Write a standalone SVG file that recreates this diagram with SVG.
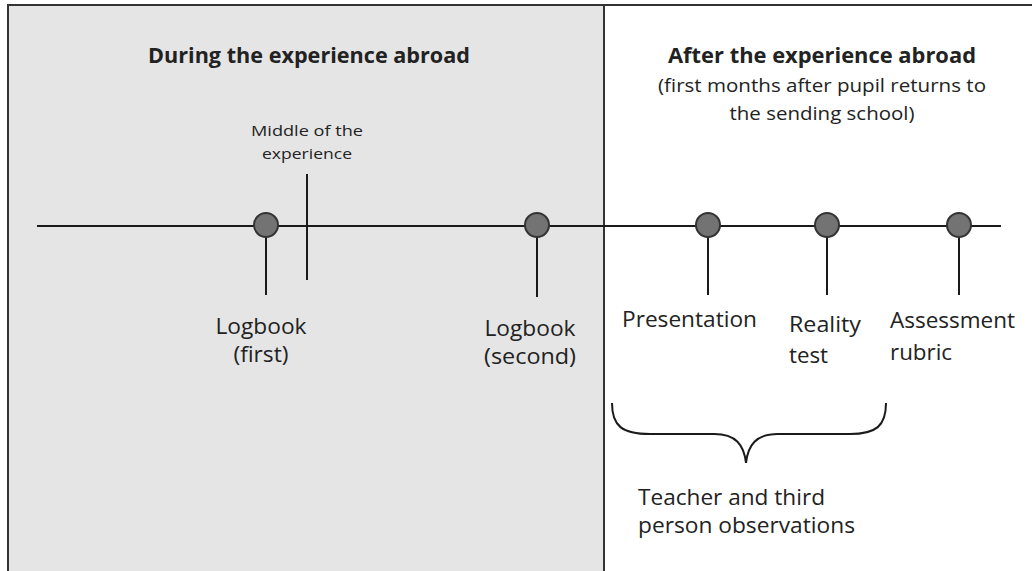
<svg xmlns="http://www.w3.org/2000/svg" width="1032" height="571" viewBox="0 0 1032 571">
<style>
.ln{stroke:#1a1a1a;stroke-width:2;fill:none}
.brd{stroke:#333;stroke-width:2;fill:none}
.dot{fill:#737373;stroke:#333;stroke-width:2}
text{font-family:"Open Sans","Liberation Sans",sans-serif;fill:#222}
.ttl{font-size:21px;font-weight:bold;text-anchor:middle}
.sub{font-size:18px;text-anchor:middle}
.lbl{font-size:21.5px}
.sm{font-size:15px;text-anchor:middle}
</style>
<rect x="0" y="0" width="1032" height="571" fill="#ffffff"/>
<g id="panel-during">
<rect x="8" y="5" width="596" height="566" fill="#e5e5e5"/>
<text class="ttl" x="309" y="63" textLength="322" lengthAdjust="spacingAndGlyphs">During the experience abroad</text>
</g>
<g id="panel-after">
<text class="ttl" x="822" y="63" textLength="308" lengthAdjust="spacingAndGlyphs">After the experience abroad</text>
<text class="sub" x="822" y="92" textLength="328" lengthAdjust="spacingAndGlyphs">(first months after pupil returns to</text>
<text class="sub" x="822" y="120" textLength="185" lengthAdjust="spacingAndGlyphs">the sending school)</text>
</g>
<g id="frame">
<line class="brd" x1="7" y1="5" x2="1032" y2="5"/>
<line class="brd" x1="8" y1="5" x2="8" y2="571"/>
<line class="brd" x1="604" y1="5" x2="604" y2="571"/>
</g>
<g id="connectors">
<line class="ln" x1="37" y1="226" x2="1001" y2="226"/>
<line class="ln" x1="307" y1="174" x2="307" y2="280"/>
<line class="ln" x1="266" y1="226" x2="266" y2="295"/>
<line class="ln" x1="537" y1="226" x2="537" y2="297"/>
<line class="ln" x1="708" y1="226" x2="708" y2="295"/>
<line class="ln" x1="827" y1="226" x2="827" y2="295"/>
<line class="ln" x1="959" y1="226" x2="959" y2="295"/>
<path class="ln" d="M612,403 C612,426 622,434 650,434 L714,434 C736,434 744,445 746,463 C748,445 756,434 778,434 L850,434 C876,434 886,426 886,403"/>
</g>
<g id="middle">
<text class="sm" x="307" y="136" textLength="112" lengthAdjust="spacingAndGlyphs">Middle of the</text>
<text class="sm" x="307" y="159" textLength="90" lengthAdjust="spacingAndGlyphs">experience</text>
</g>
<g id="logbook-first">
<circle class="dot" cx="266" cy="225" r="12"/>
<text class="lbl" x="261" y="334" text-anchor="middle" textLength="91" lengthAdjust="spacingAndGlyphs">Logbook</text>
<text class="lbl" x="261" y="362" text-anchor="middle" textLength="55" lengthAdjust="spacingAndGlyphs">(first)</text>
</g>
<g id="logbook-second">
<circle class="dot" cx="537" cy="225" r="12"/>
<text class="lbl" x="530" y="336" text-anchor="middle" textLength="91" lengthAdjust="spacingAndGlyphs">Logbook</text>
<text class="lbl" x="530" y="364" text-anchor="middle" textLength="92" lengthAdjust="spacingAndGlyphs">(second)</text>
</g>
<g id="presentation">
<circle class="dot" cx="708" cy="225" r="12"/>
<text class="lbl" x="622" y="327" textLength="135" lengthAdjust="spacingAndGlyphs">Presentation</text>
</g>
<g id="reality-test">
<circle class="dot" cx="827" cy="225" r="12"/>
<text class="lbl" x="789" y="332" textLength="72" lengthAdjust="spacingAndGlyphs">Reality</text>
<text class="lbl" x="789" y="363" textLength="39" lengthAdjust="spacingAndGlyphs">test</text>
</g>
<g id="assessment-rubric">
<circle class="dot" cx="959" cy="225" r="12"/>
<text class="lbl" x="890" y="328" textLength="125" lengthAdjust="spacingAndGlyphs">Assessment</text>
<text class="lbl" x="890" y="360" textLength="62" lengthAdjust="spacingAndGlyphs">rubric</text>
</g>
<g id="observations">
<text class="lbl" x="638" y="505" textLength="187" lengthAdjust="spacingAndGlyphs">Teacher and third</text>
<text class="lbl" x="638" y="533" textLength="217" lengthAdjust="spacingAndGlyphs">person observations</text>
</g>
</svg>
